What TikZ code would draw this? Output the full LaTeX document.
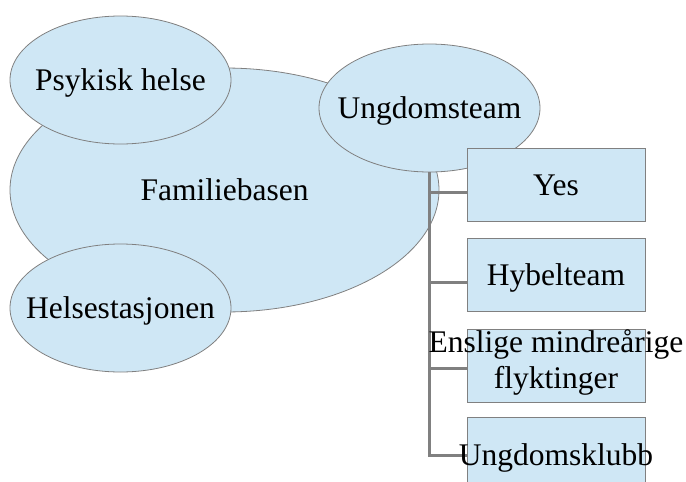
\documentclass[tikz,border=0pt]{standalone}
\usepackage{fontspec}
\setmainfont{Liberation Serif}
\usetikzlibrary{shapes.geometric}
\definecolor{paleblue}{RGB}{207,231,245}
\definecolor{rimgray}{RGB}{128,128,128}
\tikzset{every node/.style={font=\fontsize{31.5}{36}\selectfont}}

\begin{document}
\begin{tikzpicture}[x=1pt,y=-1pt]

\tikzstyle{blob}=[ellipse,draw=rimgray,line width=0.8pt,fill=paleblue,
  inner sep=0pt,text height=28pt,text depth=6.8pt,
  minimum width=221pt,minimum height=128pt]
\tikzstyle{unit}=[rectangle,draw=rimgray,line width=0.8pt,fill=paleblue,
  inner sep=0pt,minimum width=178pt,minimum height=73pt]
\tikzstyle{lbl}=[inner sep=0pt,text height=28pt,text depth=6.8pt]
\tikzstyle{link}=[draw=rimgray,line width=3pt]

  \clip (0,0) rectangle (686,482);

  \node[blob,minimum width=429pt,minimum height=244pt] (famb) at (224.5,190)
   {\makebox[0pt]{Familiebasen}};
  \node[blob] (psyk) at (120.5,80) {\makebox[0pt]{Psykisk helse}};
  \node[blob] (hstas) at (120.5,308) {\makebox[0pt]{Helsestasjonen}};
  \node[blob] (team) at (429.5,108) {\makebox[0pt]{Ungdomsteam}};

  \node[unit] (yes) at (556,185) {};
  \node[unit] (hybel) at (556,274.5) {};
  \node[unit] (flykt) at (556,365.5) {};
  \node[unit] (klubb) at (556,453.5) {};

  \foreach \b/\s in {klubb/-1.5pt,flykt/-2.5pt,hybel/-7.5pt,yes/-7pt}
    \draw[link] (team.south) |- ([yshift=\s]\b.west);

  \node[lbl] (yes-txt) at (yes) {Yes};
  \node[lbl] (hybel-txt) at (hybel) {Hybelteam};
  \node[align=center,inner sep=0pt,yshift=3pt] (flykt-txt) at (flykt)
   {Enslige mindreårige\\flyktinger};
  \node[lbl,yshift=-1.5pt] (klubb-txt) at (klubb) {Ungdomsklubb};
\end{tikzpicture}
\end{document}
